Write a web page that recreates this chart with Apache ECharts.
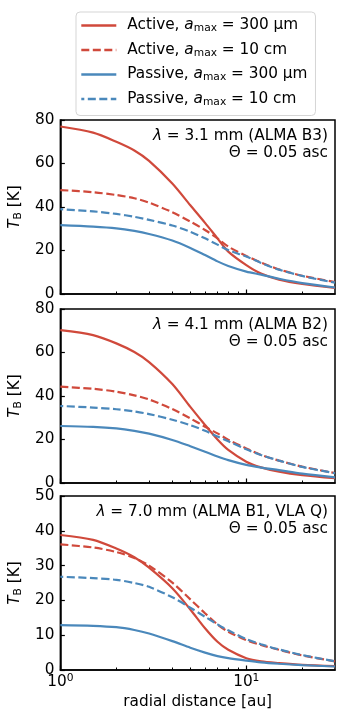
<!DOCTYPE html>
<html>
<head>
<meta charset="utf-8">
<script src="https://cdn.jsdelivr.net/npm/echarts@6/dist/echarts.min.js"></script>
<style>
  html, body { margin: 0; padding: 0; background: #fff; }
  #chart { width: 342px; height: 713px; }
</style>
</head>
<body>
<div id="chart"></div>
<script>
// radial distance [au]
var radius = [1, 1.5, 2, 2.5, 3, 4, 5, 6, 7, 8, 10, 12, 15, 20, 30];

// panel 1: 3.1 mm
var b3Active300 = [77, 74.2, 70, 66, 61.2, 50.8, 40.8, 32.7, 25.6, 19.5, 13.3, 9.4, 6.6, 4.6, 2.8];
var b3Active10 = [47.8, 46.8, 45.5, 44, 42, 37.6, 33.3, 29.4, 25.6, 21.8, 17.5, 14.5, 11.3, 8.4, 5.5];
var b3Passive10 = [39, 38, 36.8, 35.5, 34.1, 31.5, 28.6, 25.6, 22.7, 20.2, 17.2, 14.3, 11.2, 8.3, 5.2];
var b3Passive300 = [31.7, 31, 30.2, 29, 27.6, 24.6, 21.2, 17.9, 15, 12.9, 10.3, 8.9, 7, 5, 3];

// panel 2: 4.1 mm
var b2Active300 = [70.3, 68, 64.2, 60.2, 55.6, 45.5, 35, 26.7, 20, 15.2, 9.8, 7.2, 5.2, 3.6, 2.2];
var b2Active10 = [44.3, 43.3, 42, 40.3, 38.4, 34, 29.7, 25.9, 22.8, 19.9, 15.9, 12.9, 10.3, 7.5, 4.6];
var b2Passive10 = [35.4, 34.7, 33.9, 32.9, 31.7, 29.1, 26.6, 24, 21.4, 19.2, 15.5, 12.9, 10.3, 7.4, 4.5];
var b2Passive300 = [26.2, 25.8, 25.1, 24, 22.7, 19.8, 16.9, 14.4, 12.2, 10.5, 8.3, 7.1, 5.9, 4.3, 2.6];

// panel 3: 7.0 mm
var b1Active300 = [38.8, 37.4, 34.9, 32.4, 29.4, 23.5, 17.4, 12, 8.1, 5.8, 3.4, 2.5, 2, 1.5, 1.1];
var b1Active10 = [36.1, 35.2, 33.9, 32.2, 30, 25.1, 20.3, 16.3, 13.1, 11, 8.6, 7.2, 5.8, 4.2, 2.5];
var b1Passive10 = [26.8, 26.4, 25.9, 25, 23.9, 20.9, 17.9, 15.3, 13.1, 11.4, 8.9, 7.4, 5.9, 4.3, 2.5];
var b1Passive300 = [12.9, 12.7, 12.3, 11.5, 10.5, 8.3, 6.4, 5, 4, 3.4, 2.7, 2.2, 1.8, 1.4, 1];

var seriesNames = ['Active300', 'Active10', 'Passive300', 'Passive10'];
var legendLabels = {
  Active300: 'Active, {i|a}{sub|max}{n| = 300 µm}',
  Active10: 'Active, {i|a}{sub|max}{n| = 10 cm}',
  Passive300: 'Passive, {i|a}{sub|max}{n| = 300 µm}',
  Passive10: 'Passive, {i|a}{sub|max}{n| = 10 cm}'
};
var panelLines1 = ['{i|λ} = 3.1 mm (ALMA B3)', '{i|λ} = 4.1 mm (ALMA B2)', '{i|λ} = 7.0 mm (ALMA B1, VLA Q)'];
var panelLine2 = 'Θ = 0.05 asc';
var yMax = [80, 80, 50];
var yStep = [20, 20, 10];
var majorTicks = [1, 10];
var minorTicks = [2, 3, 4, 5, 6, 7, 8, 9, 20];

var panels = [
  [b3Active300, b3Active10, b3Passive300, b3Passive10],
  [b2Active300, b2Active10, b2Passive300, b2Passive10],
  [b1Active300, b1Active10, b1Passive300, b1Passive10]
];

var red = '#d0493b';
var blue = '#4a88bb';
var font = 'DejaVu Sans';
var fs = 15.3;
var gridTops = [120, 309, 496];

function pairs(ys) {
  var out = [];
  for (var i = 0; i < radius.length; i++) {
    out.push([radius[i], ys[i]]);
  }
  return out;
}

var grids = [], xAxes = [], yAxes = [], series = [], graphics = [];

for (var p = 0; p < 3; p++) {
  var last = p == 2;
  grids.push({
    left: 58, top: gridTops[p], width: 277, height: 174,
    show: true, borderColor: '#000', borderWidth: 1.5, backgroundColor: 'transparent'
  });
  // major x ticks + labels
  xAxes.push({
    type: 'log', logBase: 10, gridIndex: p, min: 1, max: 30,
    axisLine: { show: true, lineStyle: { color: '#000', width: 1.5 } },
    axisTick: { show: true, inside: true, length: 4.5, customValues: majorTicks, lineStyle: { color: '#000', width: 1.2 } },
    splitLine: { show: false },
    axisLabel: {
      show: last, customValues: majorTicks, margin: 3,
      color: '#000', fontFamily: font, fontSize: fs,
      formatter: function(v) {
        return '{b|10}{sup|' + Math.round(Math.log10(v)) + '}';
      },
      rich: {
        b: { fontFamily: font, fontSize: fs, color: '#000' },
        sup: { fontFamily: font, fontSize: 10.7, color: '#000', verticalAlign: 'top', padding: [0, 0, 8, 0] }
      }
    },
    name: last ? 'radial distance [au]' : '',
    nameLocation: 'middle', nameGap: 25,
    nameTextStyle: { fontFamily: font, fontSize: fs, color: '#000' }
  });
  // minor x ticks
  xAxes.push({
    type: 'log', logBase: 10, gridIndex: p, min: 1, max: 30, position: 'bottom',
    axisLine: { show: false },
    axisTick: { show: true, inside: true, length: 2.5, customValues: minorTicks, lineStyle: { color: '#000', width: 1 } },
    axisLabel: { show: false },
    splitLine: { show: false }
  });
  yAxes.push({
    type: 'value', gridIndex: p, min: 0, max: yMax[p], interval: yStep[p],
    axisLine: { show: true, lineStyle: { color: '#000', width: 1.5 } },
    axisTick: { show: true, inside: true, length: 4.5, lineStyle: { color: '#000', width: 1.2 } },
    splitLine: { show: false },
    axisLabel: { color: '#000', fontFamily: font, fontSize: fs, margin: 6 },
    name: '{i|T}{sub|B} [K]',
    nameLocation: 'middle', nameGap: 25, nameRotate: 90,
    nameTextStyle: {
      fontFamily: font, fontSize: fs, color: '#000',
      rich: {
        i: { fontFamily: font, fontSize: fs, fontStyle: 'italic', color: '#000' },
        sub: { fontFamily: font, fontSize: 10.7, color: '#000', verticalAlign: 'bottom', padding: [6, 0, 0, 0] }
      }
    }
  });

  for (var s = 0; s < 4; s++) {
    var active = s < 2;
    var dashed = s % 2 == 1;
    series.push({
      name: seriesNames[s],
      type: 'line',
      xAxisIndex: p * 2,
      yAxisIndex: p,
      symbol: 'none',
      smooth: 0.3,
      z: active ? 2 : 3,
      lineStyle: {
        color: active ? red : blue,
        width: 2.2,
        type: dashed ? [8, 3.5] : 'solid',
        dashOffset: active ? 0 : 5
      },
      itemStyle: { color: active ? red : blue },
      data: pairs(panels[p][s])
    });
  }

  graphics.push({
    type: 'text', right: 14, top: gridTops[p] + 8.5,
    style: {
      text: panelLines1[p],
      fill: '#000', font: fs + 'px "DejaVu Sans"',
      rich: { i: { fontFamily: font, fontSize: fs, fontStyle: 'italic', fill: '#000' } }
    }
  });
  graphics.push({
    type: 'text', right: 14, top: gridTops[p] + 26,
    style: { text: panelLine2, fill: '#000', font: fs + 'px "DejaVu Sans"' }
  });
}

var chart = echarts.init(document.getElementById('chart'), null, { renderer: 'canvas' });
chart.setOption({
  animation: false,
  backgroundColor: '#fff',
  legend: {
    data: seriesNames,
    orient: 'vertical',
    left: 76, top: 12,
    padding: [6, 8, 8, 4],
    itemWidth: 35, itemHeight: 14, itemGap: 8.5,
    borderColor: '#d5d5d5', borderWidth: 1, borderRadius: 4,
    itemStyle: { opacity: 0 },
    lineStyle: { width: 2.6 },
    formatter: function(name) { return legendLabels[name]; },
    textStyle: {
      fontFamily: font, fontSize: fs, color: '#000', padding: [0, 0, 0, 6],
      rich: {
        i: { fontFamily: font, fontSize: fs, fontStyle: 'italic', color: '#000' },
        sub: { fontFamily: font, fontSize: 10.7, color: '#000', verticalAlign: 'bottom', padding: [6, 0, 0, 0] },
        n: { fontFamily: font, fontSize: fs, color: '#000' }
      }
    }
  },
  grid: grids,
  xAxis: xAxes,
  yAxis: yAxes,
  series: series,
  graphic: graphics
});
</script>
</body>
</html>
